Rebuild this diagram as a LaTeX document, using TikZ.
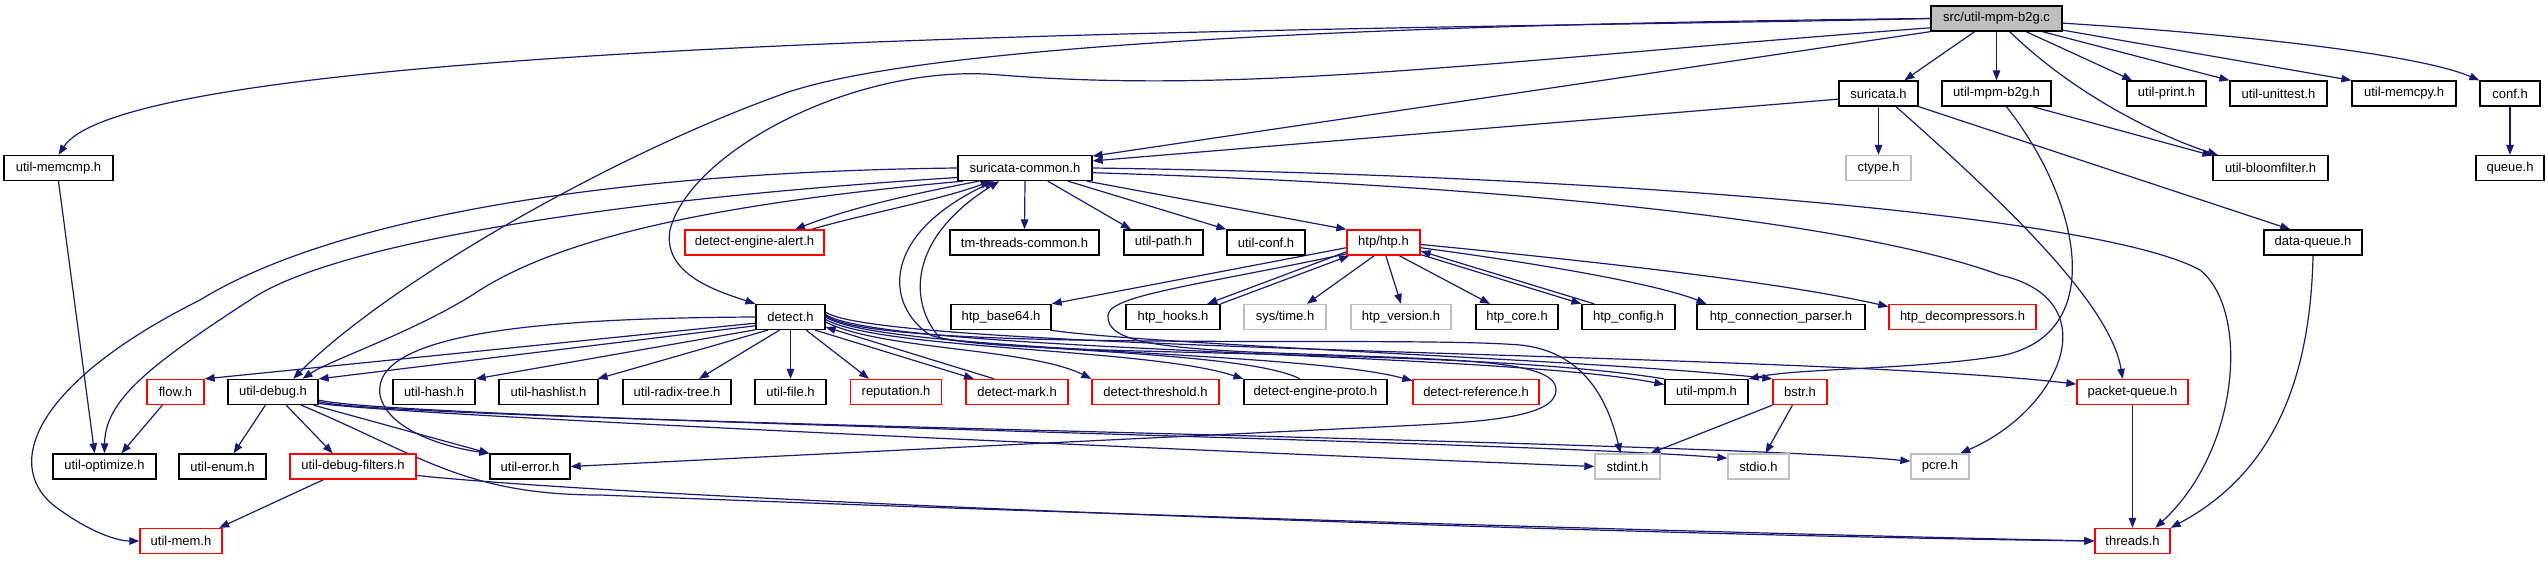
\documentclass[tikz,border=0pt]{standalone}
\usepackage{fontspec}
\setmainfont{Liberation Sans}
\usetikzlibrary{arrows.meta,backgrounds}
\definecolor{EdgeBlue}{HTML}{191970}
\definecolor{TruncRed}{HTML}{FF0000}
\definecolor{SysGray}{HTML}{BFBFBF}
\tikzset{
  hdr/.style={draw=black, line width=1.3pt, fill=white, minimum height=25pt, inner sep=0pt, font=\fontsize{13}{15}\selectfont},
  hdrcut/.style={hdr, draw=TruncRed},
  hdrsys/.style={hdr, draw=SysGray},
  hdrmain/.style={hdr, fill=SysGray},
  inc/.style={color=EdgeBlue, line width=1.2pt, -{Triangle[length=10pt,width=7.5pt]}},
}

\begin{document}
\begin{tikzpicture}[x=1pt, y=-1pt]
  \useasboundingbox (0,0) rectangle (2548,560);
  % row 0
  \node[hdrmain, minimum width=131pt] (root) at (1996.5,18.5) {src/util-mpm-b2g.c};
  % row 1
  \node[hdr, minimum width=79pt] (suri) at (1878.5,93.5) {suricata.h};
  \node[hdr, minimum width=109pt] (umb) at (1996.5,93.5) {util-mpm-b2g.h};
  \node[hdr, minimum width=79pt] (uprint) at (2166.5,93.5) {util-print.h};
  \node[hdr, minimum width=97pt] (utest) at (2278.5,93.5) {util-unittest.h};
  \node[hdr, minimum width=104pt] (umcpy) at (2404,93.5) {util-memcpy.h};
  \node[hdr, minimum width=60pt] (conf) at (2510,93.5) {conf.h};
  % row 2
  \node[hdr, minimum width=109pt] (memcmp) at (58.5,168) {util-memcmp.h};
  \node[hdr, minimum width=134pt] (sc) at (1025,168) {suricata-common.h};
  \node[hdrsys, minimum width=65pt] (ctype) at (1878.5,168) {ctype.h};
  \node[hdr, minimum width=115pt] (ubf) at (2270.5,168) {util-bloomfilter.h};
  \node[hdr, minimum width=68pt] (queue) at (2510,168) {queue.h};
  % row 3
  \node[hdrcut, minimum width=139pt] (dea) at (754.5,242.5) {detect-engine-alert.h};
  \node[hdr, minimum width=149pt] (ttc) at (1024.5,242.5) {tm-threads-common.h};
  \node[hdr, minimum width=79pt] (upath) at (1163.5,242.5) {util-path.h};
  \node[hdr, minimum width=78pt] (uconf) at (1266,242.5) {util-conf.h};
  \node[hdrcut, minimum width=73pt] (htp) at (1383.5,242.5) {htp/htp.h};
  \node[hdr, minimum width=98pt] (dq) at (2313,242.5) {data-queue.h};
  % row 4
  \node[hdr, minimum width=69pt] (dt) at (790.5,317) {detect.h};
  \node[hdr, minimum width=100pt] (hb) at (1001,317) {htp\_base64.h};
  \node[hdr, minimum width=94pt] (hh) at (1173,317) {htp\_hooks.h};
  \node[hdrsys, minimum width=82pt] (st) at (1285,317) {sys/time.h};
  \node[hdrsys, minimum width=100pt] (hv) at (1401,317) {htp\_version.h};
  \node[hdr, minimum width=82pt] (hc) at (1517,317) {htp\_core.h};
  \node[hdr, minimum width=93pt] (hcfg) at (1628.5,317) {htp\_config.h};
  \node[hdr, minimum width=168pt] (hcp) at (1781,317) {htp\_connection\_parser.h};
  \node[hdrcut, minimum width=147pt] (hd) at (1962.5,317) {htp\_decompressors.h};
  % row 5
  \node[hdrcut, minimum width=57pt] (flow) at (175.5,392) {flow.h};
  \node[hdr, minimum width=90pt] (ud) at (273,392) {util-debug.h};
  \node[hdr, minimum width=82pt] (uh) at (434,392) {util-hash.h};
  \node[hdr, minimum width=99pt] (uhl) at (548.5,392) {util-hashlist.h};
  \node[hdr, minimum width=108pt] (urt) at (677,392) {util-radix-tree.h};
  \node[hdr, minimum width=71pt] (uf) at (790.5,392) {util-file.h};
  \node[hdrcut, minimum width=91pt] (rep) at (896,392) {reputation.h};
  \node[hdrcut, minimum width=102pt] (dm) at (1017,392) {detect-mark.h};
  \node[hdrcut, minimum width=127pt] (dth) at (1155.5,392) {detect-threshold.h};
  \node[hdr, minimum width=143pt] (dep) at (1315.5,392) {detect-engine-proto.h};
  \node[hdrcut, minimum width=126pt] (dref) at (1476,392) {detect-reference.h};
  \node[hdr, minimum width=83pt] (upm) at (1706.5,392) {util-mpm.h};
  \node[hdrcut, minimum width=54pt] (bstr) at (1800,392) {bstr.h};
  \node[hdrcut, minimum width=111pt] (pq) at (2132.5,392) {packet-queue.h};
  % row 6
  \node[hdr, minimum width=103pt] (uo) at (104.5,466.5) {util-optimize.h};
  \node[hdr, minimum width=87pt] (uenum) at (222.5,466.5) {util-enum.h};
  \node[hdrcut, minimum width=126pt] (udf) at (353,466.5) {util-debug-filters.h};
  \node[hdr, minimum width=80pt] (uerr) at (530,466.5) {util-error.h};
  \node[hdrsys, minimum width=65pt] (stdint) at (1627.5,466.5) {stdint.h};
  \node[hdrsys, minimum width=61pt] (stdio) at (1758.5,466.5) {stdio.h};
  \node[hdrsys, minimum width=58pt] (pcre) at (1940,466.5) {pcre.h};
  % row 7
  \node[hdrcut, minimum width=82pt] (umem) at (181,541) {util-mem.h};
  \node[hdrcut, minimum width=75pt] (thr) at (2132.5,541) {threads.h};

  \begin{scope}[on background layer]
    \fill[white] (0,0) rectangle (2548,560);
    % src/util-mpm-b2g.c
    \draw[inc] (root.west) .. controls (1450,30) and (140,30) .. (memcmp.north);
    \draw[inc] (root.west) .. controls (1300,25) and (900,50) .. (780,95) .. controls (600,160) and (380,290) .. (ud.33);
    \draw[inc] (root.188) .. controls (1500,60) and (1250,95) .. (1000,75) .. controls (860,62) and (690,150) .. (670,230) .. controls (662,275) and (720,292) .. (dt.north west);
    \draw[inc] (root.south west) -- (sc.10);
    \draw[inc] (root.211) -- (suri.27);
    \draw[inc] (root.south) -- (umb.north);
    \draw[inc] (root.-45) .. controls (2080,100) and (2170,140) .. (ubf.166);
    \draw[inc] (root.-24) -- (uprint.159);
    \draw[inc] (root.-16) -- (utest.north west);
    \draw[inc] (root.-10) -- (umcpy.north west);
    \draw[inc] (root.-4) .. controls (2250,35) and (2420,55) .. (conf.north west);
    % suricata.h, util-mpm-b2g.h, conf.h
    \draw[inc] (suri.188) -- (sc.6);
    \draw[inc] (suri.south) -- (ctype.north);
    \draw[inc] (suri.-37) .. controls (1990,190) and (2110,300) .. (pq.127);
    \draw[inc] (suri.south east) -- (dq.150);
    \draw[inc] (umb.-20) -- (ubf.168);
    \draw[inc] (umb.-53) .. controls (2080,200) and (2110,335) .. (2000,356) .. controls (1910,370) and (1800,368) .. (upm.north east);
    \draw[inc] (conf.south) -- (queue.north);
    \draw[inc] (dq.south) .. controls (2310,400) and (2260,480) .. (thr.north east);
    \draw[inc] (pq.south) -- (thr.north);
    % suricata-common.h
    \draw[inc] (sc.south) -- (ttc.north);
    \draw[inc] (sc.-30) -- (upath.158);
    \draw[inc] (sc.-17) -- (uconf.north west);
    \draw[inc] (sc.-12) -- (htp.north west);
    \draw[inc] (sc.-4) .. controls (1500,185) and (1850,220) .. (2000,275) .. controls (2110,300) and (2060,410) .. (pcre.33);
    \draw[inc] (sc.east) .. controls (1600,175) and (2100,215) .. (2200,270) .. controls (2250,310) and (2240,450) .. (thr.30);
    \draw[inc] (sc.west) .. controls (600,172) and (330,220) .. (200,300) .. controls (30,385) and (0,470) .. (60,510) .. controls (95,535) and (120,541) .. (umem.west);
    \draw[inc] (sc.188) .. controls (600,200) and (330,245) .. (250,300) .. controls (150,365) and (105,400) .. (uo.north);
    \draw[inc] (sc.192) .. controls (700,205) and (560,240) .. (480,290) .. controls (420,330) and (330,360) .. (ud.24);
    \draw[inc] (sc.196) .. controls (890,198) and (840,212) .. (dea.18);
    \draw[inc] (dea.13) .. controls (860,215) and (940,200) .. (sc.201);
    \draw[inc] (upm.north west) .. controls (1450,345) and (1000,360) .. (930,335) .. controls (885,305) and (880,235) .. (sc.203);
    \draw[inc] (dep.140) .. controls (1250,352) and (1000,350) .. (940,338) .. controls (910,305) and (905,240) .. (sc.207);
    % htp/htp.h
    \draw[inc] (htp.188) -- (hb.north east);
    \draw[inc] (htp.194) -- (hh.21);
    \draw[inc] (hh.north east) -- (htp.201);
    \draw[inc] (htp.235) -- (st.31);
    \draw[inc] (htp.-80) -- (hv.north);
    \draw[inc] (htp.-40) -- (hc.154);
    \draw[inc] (htp.-18) -- (hcfg.north west);
    \draw[inc] (hcfg.159) -- (htp.-13);
    \draw[inc] (htp.-8) .. controls (1550,265) and (1660,285) .. (hcp.170);
    \draw[inc] (htp.-3) .. controls (1600,262) and (1780,282) .. (hd.172);
    \draw[inc] (htp.197) .. controls (1200,285) and (1110,295) .. (1108,315) .. controls (1106,340) and (1150,347) .. (1250,352) .. controls (1450,360) and (1556,358) .. (1556,390) .. controls (1556,418) and (1480,422) .. (1400,426) .. controls (1000,445) and (700,460) .. (uerr.east);
    \draw[inc] (hb.-15) .. controls (1150,345) and (1600,360) .. (bstr.north west);
    % detect.h
    \draw[inc] (dt.190) -- (flow.north east);
    \draw[inc] (dt.194) -- (ud.16);
    \draw[inc] (dt.200) -- (uh.north east);
    \draw[inc] (dt.210) -- (uhl.15);
    \draw[inc] (dt.230) -- (urt.31);
    \draw[inc] (dt.south) -- (uf.north);
    \draw[inc] (dt.west) .. controls (560,318) and (370,330) .. (380,395) .. controls (388,432) and (450,448) .. (uerr.north west);
    \draw[inc] (dt.-40) -- (rep.154);
    \draw[inc] (dt.-28) -- (dm.163);
    \draw[inc] (dm.150) -- (dt.-16);
    \draw[inc] (dt.-8) .. controls (880,350) and (1030,348) .. (dth.north west);
    \draw[inc] (dt.-4) .. controls (880,350) and (1150,348) .. (dep.north west);
    \draw[inc] (dt.0) .. controls (880,352) and (1300,350) .. (dref.170);
    \draw[inc] (dt.4) .. controls (880,352) and (1500,352) .. (upm.170);
    \draw[inc] (dt.8) .. controls (880,352) and (1800,352) .. (pq.172);
    \draw[inc] (dt.2) .. controls (880,354) and (1400,335) .. (1520,345) .. controls (1590,352) and (1610,410) .. (stdint.118);
    % util-debug.h and below
    \draw[inc] (ud.240) -- (uenum.50);
    \draw[inc] (ud.-45) -- (udf.147);
    \draw[inc] (ud.-18) -- (uerr.north west);
    \draw[inc] (ud.-14) .. controls (400,416) and (1300,455) .. (stdint.west);
    \draw[inc] (ud.-10) .. controls (400,420) and (1500,440) .. (stdio.165);
    \draw[inc] (ud.-12) .. controls (400,422) and (1700,440) .. (pcre.170);
    \draw[inc] (ud.-25) .. controls (420,455) and (465,495) .. (600,495) .. controls (1100,515) and (1800,535) .. (thr.west);
    \draw[inc] (udf.-8) .. controls (650,500) and (1600,535) .. (thr.west);
    \draw[inc] (udf.204) -- (umem.19);
    \draw[inc] (flow.225) -- (uo.38);
    \draw[inc] (memcmp.south) -- (uo.127);
    \draw[inc] (bstr.south west) -- (stdint.30);
    \draw[inc] (bstr.240) -- (stdio.62);
  \end{scope}
\end{tikzpicture}
\end{document}
